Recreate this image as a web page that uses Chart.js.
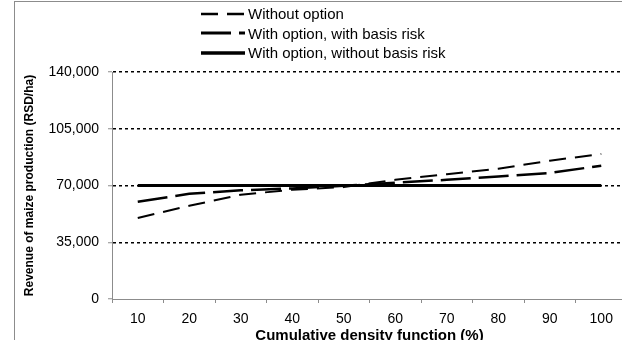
<!DOCTYPE html>
<html>
<head>
<meta charset="utf-8">
<script src="https://cdn.jsdelivr.net/npm/chart.js@4/dist/chart.umd.min.js"></script>
<style>
  html, body { margin: 0; padding: 0; background: #fff; overflow: hidden; width: 622px; height: 340px; }
  #frame { position: absolute; left: 14px; top: 1px; width: 700px; height: 400px; border: 1px solid #8c8c8c; }
  #wrap { position: absolute; left: 0; top: 0; width: 640px; height: 350px; }
  #legend { position: absolute; left: 201px; top: 4px; font: 15px "Liberation Sans", Arial, sans-serif; color: #000; }
  #legend .row { height: 19.5px; line-height: 19.5px; white-space: nowrap; display: flex; align-items: center; }
  #legend svg { margin-right: 3px; }
</style>
</head>
<body>
<div id="frame"></div>
<div id="wrap"><canvas id="revenue_chart" width="640" height="350"></canvas></div>
<div id="legend"></div>
<script>
// values
var cdfLabels = ['10', '20', '30', '40', '50', '60', '70', '80', '90', '100'];
var withoutOption = [50000, 57500, 64300, 67400, 69000, 73500, 77000, 80300, 85300, 89400];
var withBasisRisk = [60000, 64900, 67000, 68200, 69800, 71700, 73500, 75600, 77700, 82200];
var withoutBasisRisk = [70000, 70000, 70000, 70000, 70000, 70000, 70000, 70000, 70000, 70000];
var seriesNames = ['Without option', 'With option, with basis risk', 'With option, without basis risk'];

const dt = {
    labels: cdfLabels,
    datasets: [
    {
        label: seriesNames[0],
        data: withoutOption,
        borderColor: '#000',
        borderWidth: 2,
        borderDash: [17, 9],
        pointRadius: 0,
        tension: 0,
        fill: false
    },
    {
        label: seriesNames[1],
        data: withBasisRisk,
        borderColor: '#000',
        borderWidth: 2.5,
        borderDash: [30, 8],
        pointRadius: 0,
        tension: 0,
        fill: false
    },
    {
        label: seriesNames[2],
        data: withoutBasisRisk,
        borderColor: '#000',
        borderWidth: 3,
        borderDash: [],
        pointRadius: 0,
        tension: 0,
        fill: false
    }
    ]
};

const config_revenue = {
    type: 'line',
    data: dt,
    options: {
        responsive: false,
        animation: false,
        layout: { padding: { left: 16, top: 72, right: 13, bottom: 0 } },
        plugins: {
            legend: { display: false },
            tooltip: { enabled: false }
        },
        scales: {
            x: {
                offset: true,
                grid: {
                    display: true,
                    drawOnChartArea: false,
                    drawTicks: true,
                    tickLength: 4,
                    tickColor: '#8c8c8c',
                    offset: true
                },
                border: { color: '#8c8c8c', width: 1 },
                ticks: {
                    color: '#000',
                    padding: 8,
                    maxRotation: 0,
                    font: { family: '"Liberation Sans", Arial, sans-serif', size: 14 }
                },
                title: {
                    display: true,
                    text: 'Cumulative density function (%)',
                    color: '#000',
                    padding: { top: 0, bottom: 5 },
                    font: { family: '"Liberation Sans", Arial, sans-serif', size: 15, weight: 'bold' }
                },
                afterFit: function(scale) { scale.height = 51; }
            },
            y: {
                min: 0,
                max: 140000,
                ticks: {
                    stepSize: 35000,
                    color: '#000',
                    padding: 9,
                    font: { family: '"Liberation Sans", Arial, sans-serif', size: 14 }
                },
                grid: {
                    color: function(ctx) { return ctx.tick && ctx.tick.value === 0 ? 'rgba(0,0,0,0)' : '#000'; },
                    lineWidth: 1.5,
                    tickLength: 4,
                    tickColor: '#8c8c8c',
                    tickWidth: 1
                },
                border: { color: '#8c8c8c', width: 1, dash: [3, 3] },
                title: {
                    display: true,
                    text: 'Revenue of maize production (RSD/ha)',
                    color: '#000',
                    padding: { top: 6, bottom: 0 },
                    font: { family: '"Liberation Sans", Arial, sans-serif', size: 12, weight: 'bold' }
                },
                afterFit: function(scale) { scale.width = 96; }
            }
        }
    }
};

const revenue_chart = new Chart(
    document.getElementById('revenue_chart'),
    config_revenue
);

// legend rows built from the datasets
var legendBox = document.getElementById('legend');
revenue_chart.data.datasets.forEach(function(ds) {
    var row = document.createElement('div');
    row.className = 'row';
    var svgNS = 'http://www.w3.org/2000/svg';
    var svg = document.createElementNS(svgNS, 'svg');
    svg.setAttribute('width', '44');
    svg.setAttribute('height', '6');
    var ln = document.createElementNS(svgNS, 'line');
    ln.setAttribute('x1', '0'); ln.setAttribute('y1', '3');
    ln.setAttribute('x2', '44'); ln.setAttribute('y2', '3');
    ln.setAttribute('stroke', ds.borderColor);
    ln.setAttribute('stroke-width', ds.borderWidth + 0.5);
    if (ds.borderDash.length) ln.setAttribute('stroke-dasharray', ds.borderDash.join(' '));
    svg.appendChild(ln);
    row.appendChild(svg);
    row.appendChild(document.createTextNode(ds.label));
    legendBox.appendChild(row);
});
</script>
</body>
</html>
